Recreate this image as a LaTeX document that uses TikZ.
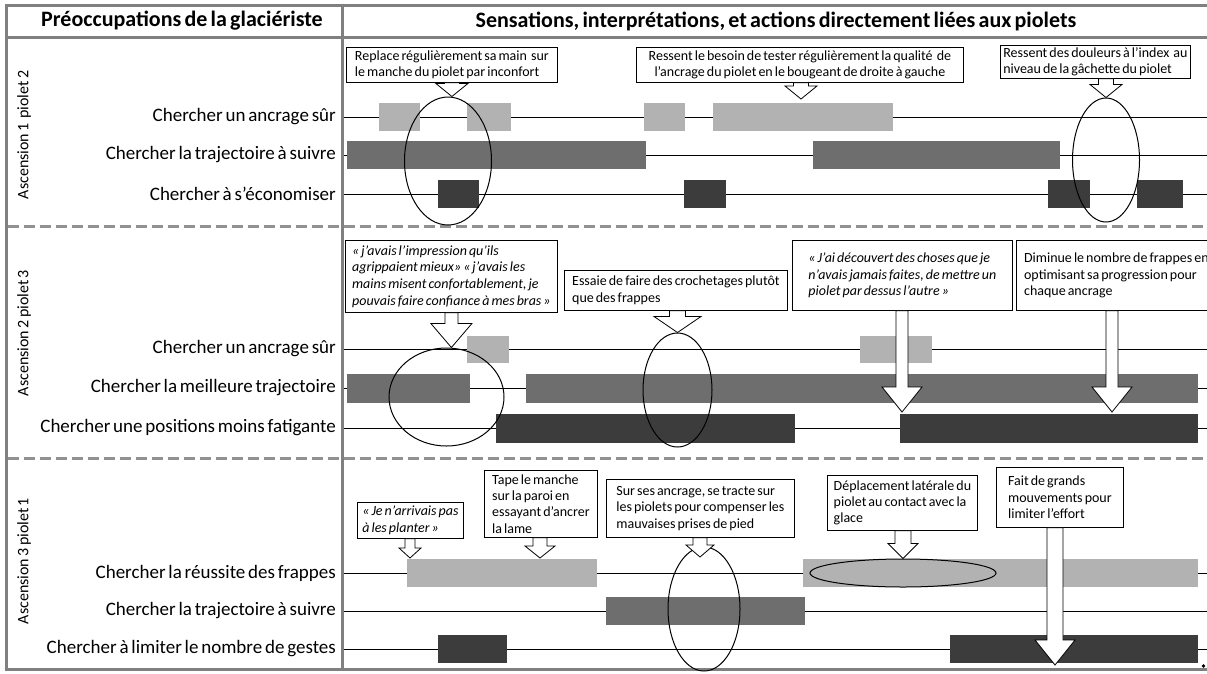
\documentclass[tikz,border=0pt]{standalone}
\usepackage{fontspec}
\setmainfont{Carlito}[WordSpace=0.65]
\usetikzlibrary{shapes.geometric,calc}
\definecolor{lgray}{RGB}{178,178,178}
\definecolor{mgray}{RGB}{110,110,110}
\definecolor{dgray}{RGB}{60,60,60}
\definecolor{fgray}{RGB}{128,128,128}
\definecolor{dashgray}{RGB}{145,145,145}
\newcommand{\blockarrow}[5]{%
 \filldraw[arrowshape] let \p1=(#2), \p2=(#1.south) in
 ({\x1-#3pt},\y2) -- ({\x1-#3pt},{\y1+#5pt}) -- ({\x1-#4pt},{\y1+#5pt}) -- (\x1,\y1)
 -- ({\x1+#4pt},{\y1+#5pt}) -- ({\x1+#3pt},{\y1+#5pt}) -- ({\x1+#3pt},\y2) -- cycle;}
\begin{document}
\begin{tikzpicture}[x=1pt,y=-1pt,
  frame/.style={draw=fgray, line width=3pt},
  sepline/.style={draw=dashgray, line width=3pt, dash pattern=on 11pt off 5pt},
  rowline/.style={draw=black, line width=0.8pt},
  rowlab/.style={anchor=east, inner sep=0pt, font=\fontsize{19}{21}\selectfont},
  seclab/.style={rotate=90, inner sep=0pt, font=\fontsize{16}{18}\selectfont},
  head/.style={inner sep=0pt, font=\bfseries\fontsize{22}{24}\selectfont},
  cbox/.style={draw, line width=0.8pt, fill=white, anchor=north west, align=left,
     inner xsep=2.5pt, inner ysep=1pt, font=\fontsize{14}{16.3}\selectfont},
  ibox/.style={cbox, font=\itshape\fontsize{14}{16.7}\selectfont},
  ell/.style={ellipse, draw, line width=1pt, inner sep=0pt},
  arrowshape/.style={draw=black, fill=white, line width=0.8pt, line join=miter}
]
\useasboundingbox (0,0) rectangle (1207,673);
\fill[white] (0,0) rectangle (1207,673);

% ---------- row lines ----------
\foreach \y in {117,155,194,349,388,428,573,611,649}
  \draw[rowline] (343,\y) -- (1207,\y);

% ---------- bars: section 1 ----------
\fill[lgray] (379,103) rectangle (420,131);
\fill[lgray] (467,103) rectangle (511,131);
\fill[lgray] (644,103) rectangle (685,131);
\fill[lgray] (713,103) rectangle (893,131);
\fill[mgray] (347,141) rectangle (646,169);
\fill[mgray] (813,141) rectangle (1060,169);
\fill[dgray] (438,180) rectangle (479,208);
\fill[dgray] (684,180) rectangle (726,208);
\fill[dgray] (1048,180) rectangle (1090,208);
\fill[dgray] (1137,180) rectangle (1183,208);

% ---------- bars: section 2 ----------
\fill[lgray] (467,336) rectangle (509,363);
\fill[lgray] (860,336) rectangle (932,363);
\fill[mgray] (347,374) rectangle (470,403);
\fill[mgray] (526,374) rectangle (1198,403);
\fill[dgray] (496,414) rectangle (795,443);
\fill[dgray] (900,414) rectangle (1198,443);

% ---------- bars: section 3 ----------
\fill[lgray] (407,559) rectangle (597,587);
\fill[lgray] (803,559) rectangle (1198,587);
\fill[mgray] (606,597) rectangle (805,625);
\fill[dgray] (438,635) rectangle (507,663);
\fill[dgray] (950,635) rectangle (1198,663);

% ---------- frame ----------
\draw[frame] (6,5) -- (1210,5);
\draw[frame] (6,37) -- (1210,37);
\draw[frame] (6,3.5) -- (6,670);
\draw[frame] (342,3.5) -- (342,670);
\draw[frame] (4.5,669) -- (1210,669);
\draw[sepline] (7.5,226) -- (1207,226);
\draw[sepline] (7.5,458) -- (1207,458);
\fill (1203.5,666) circle (1.8);

% ---------- header ----------
\node[head] (h1) at (182,21) {Préoccupations de la glaciériste};
\node[head] (h2) at (776,21) {Sensations, interprétations, et actions directement liées aux piolets};

% ---------- section labels ----------
\node[seclab] (a1) at (24,135) {Ascension 1\ \ piolet 2};
\node[seclab] (a2) at (24,333) {Ascension 2 piolet 3};
\node[seclab] (a3) at (24,561) {Ascension 3 piolet 1};

% ---------- row labels ----------
\node[rowlab] (r11) at (336,117) {Chercher un ancrage sûr};
\node[rowlab] (r12) at (336,155) {Chercher la trajectoire à suivre};
\node[rowlab] (r13) at (336,194) {Chercher à s’économiser};
\node[rowlab] (r21) at (336,349) {Chercher un ancrage sûr};
\node[rowlab] (r22) at (336,388) {Chercher la meilleure trajectoire};
\node[rowlab] (r23) at (336,428) {Chercher une positions moins fatigante};
\node[rowlab] (r31) at (336,573) {Chercher la réussite des frappes};
\node[rowlab] (r32) at (336,611) {Chercher la trajectoire à suivre};
\node[rowlab] (r33) at (336,649) {Chercher à limiter le nombre de gestes};

% ---------- ellipses ----------
\node[ell, minimum width=87pt, minimum height=128pt] (e1) at (448,161) {};
\node[ell, minimum width=67pt, minimum height=124pt] (e2) at (1106,160) {};
\node[ell, minimum width=115pt, minimum height=98pt] (e3) at (446.5,397) {};
\node[ell, minimum width=69pt, minimum height=114pt] (e4) at (677.5,390) {};
\node[ell, minimum width=72pt, minimum height=124pt] (e5) at (704,609) {};
\node[ell, minimum width=186pt, minimum height=28pt] (e6) at (903,573) {};

% ---------- callouts: section 1 ----------
\node[cbox, minimum width=211pt, minimum height=35pt] (b11) at (346,47)
  {Replace régulièrement sa main\ \ sur\\le manche du piolet par inconfort};
\node[cbox, align=center, minimum width=327pt, minimum height=35pt] (b12) at (636,47)
  {Ressent le besoin de tester régulièrement la qualité\ \ de\\l’ancrage du piolet en le bougeant de droite à gauche};
\node[cbox, minimum width=190pt, minimum height=33pt] (b13) at (1000,45)
  {Ressent des douleurs à l’index\ \ au\\niveau de la gâchette du piolet};
\coordinate (t11) at (b11.south |- e1.north);
\coordinate (t12) at (801,99);
\blockarrow{b11}{t11}{7.5}{16}{13}
\blockarrow{b12}{t12}{7.5}{16}{13}
\blockarrow{b13}{e2.north}{7.5}{16}{13}

% ---------- callouts: section 2 ----------
\node[ibox, minimum width=212pt, minimum height=72pt] (b21) at (345,240)
  {« j’avais l’impression qu’ils\\agrippaient mieux» « j’avais les\\mains misent confortablement, je\\pouvais faire confiance à mes bras »};
\node[cbox, minimum width=223pt, minimum height=40pt] (b22) at (564,270)
  {Essaie de faire des crochetages plutôt\\que des frappes\hfill\null};
\node[ibox, minimum width=220pt, minimum height=70pt] (b23) at (792,240)
  {« J’ai découvert des choses que je\\n’avais jamais faites, de mettre un\\piolet par dessus l’autre »};
\node[cbox, minimum width=200pt, minimum height=70pt] (b24) at (1016,240)
  {Diminue le nombre de frappes en\\optimisant sa progression pour\\chaque ancrage};
\coordinate (t21) at (b21.south |- e3.north);
\coordinate (t23) at (902,412);
\coordinate (t24) at (1112,412);
\blockarrow{b21}{t21}{6.5}{20.5}{24}
\blockarrow{b22}{e4.north}{8}{23.5}{16}
\blockarrow{b23}{t23}{6}{20}{25}
\blockarrow{b24}{t24}{6}{20}{25}

% ---------- callouts: section 3 ----------
\node[ibox, minimum width=106pt, minimum height=36pt] (b31) at (357,502)
  {« Je n’arrivais pas\\à les planter »};
\node[cbox, minimum width=113pt, minimum height=67pt] (b32) at (484,470)
  {Tape le manche\\sur la paroi en\\essayant d’ancrer\\la lame};
\node[cbox, minimum width=188pt, minimum height=58pt] (b33) at (606,479)
  {Sur ses ancrage, se tracte sur\\les piolets pour compenser les\\mauvaises prises de pied};
\node[cbox, minimum width=150pt, minimum height=55pt] (b34) at (827,475)
  {Déplacement latérale du\\piolet au contact avec la\\glace};
\node[cbox, minimum width=127pt, minimum height=60pt] (b35) at (996,467)
  {Fait de grands\\mouvements pour\\limiter l’effort};
\coordinate (t31) at (410,558);
\coordinate (t32) at (540,558);
\coordinate (t33) at (700,557);
\coordinate (t35) at (1055,665);
\blockarrow{b31}{t31}{5}{11}{10}
\blockarrow{b32}{t32}{7}{15}{12}
\blockarrow{b33}{t33}{7}{14}{12}
\blockarrow{b34}{e6.north}{8}{15}{15}
\blockarrow{b35}{t35}{8}{20}{25}
\end{tikzpicture}
\end{document}
